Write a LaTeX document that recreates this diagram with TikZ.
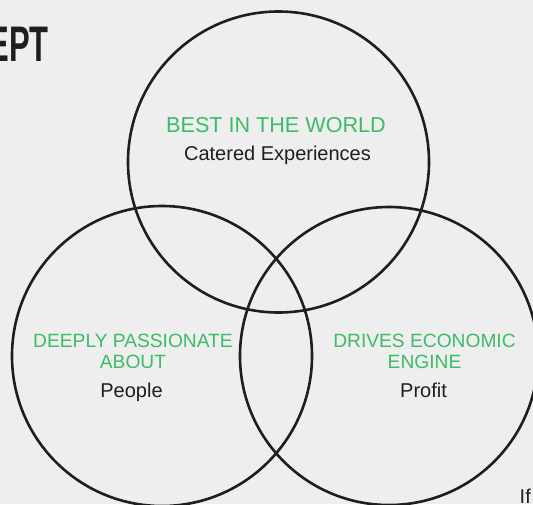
\documentclass[tikz,border=0pt]{standalone}
\usepackage{fontspec}
\setmainfont{Liberation Sans}
\definecolor{bgc}{RGB}{238,238,238}
\definecolor{grn}{RGB}{60,188,104}
\definecolor{ink}{RGB}{30,30,30}
\begin{document}
\begin{tikzpicture}[x=1pt,y=-1pt,
  ring/.style={draw=ink,line width=2.6pt},
  head/.style={text=grn,inner sep=0pt,anchor=base,font=\fontsize{19.2}{22}\selectfont},
  bighead/.style={text=grn,inner sep=0pt,anchor=base,font=\fontsize{21.6}{24}\selectfont},
  body/.style={text=ink,inner sep=0pt,anchor=base,font=\fontsize{20}{23}\selectfont}]
\fill[bgc] (0,0) rectangle (533,504);
\useasboundingbox (0,0) rectangle (533,504);
% circles
\draw[ring] (278.5,162) circle (150.5pt);
\draw[ring] (162,356) circle (150pt);
\draw[ring] (389,356) circle (149pt);
% title fragment
\node[text=ink,inner sep=0pt,anchor=base east] (title) at (49,61)
  {\scalebox{0.62}[1]{\fontsize{50}{56}\selectfont\bfseries EPT}};
% top circle
\node[bighead] (best) at (276,132) {BEST IN THE WORLD};
\node[body] (cat) at (277.5,160) {Catered Experiences};
% left circle
\node[head] (deep1) at (133,347) {DEEPLY PASSIONATE};
\node[head] (deep2) at (133,368) {ABOUT};
\node[body] (people) at (131.5,397) {People};
% right circle
\node[head] (drive1) at (424.5,347) {DRIVES ECONOMIC};
\node[head] (drive2) at (424.5,368) {ENGINE};
\node[body] (profit) at (423.5,397.5) {Profit};
% bottom fragment
\node[body,anchor=base west] (iff) at (519.5,503) {If};
\end{tikzpicture}
\end{document}
